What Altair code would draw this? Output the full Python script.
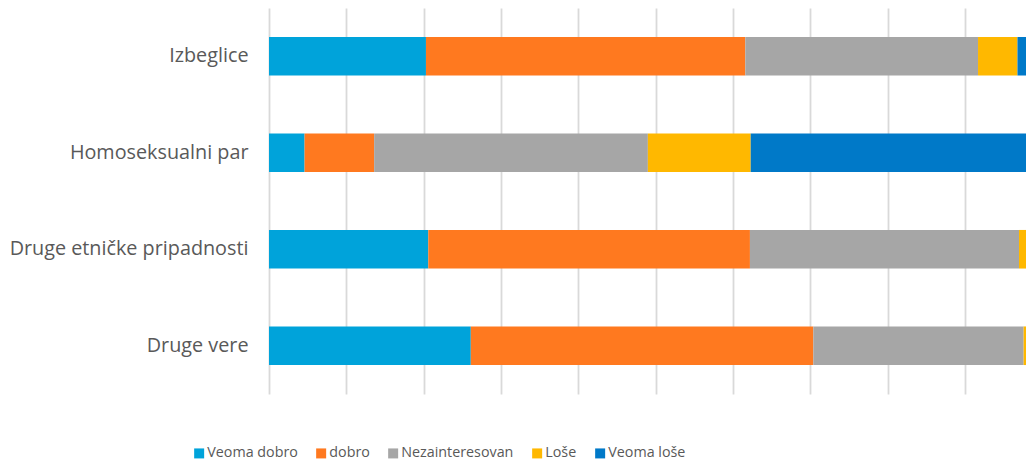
import altair as alt
import pandas as pd

groups = ["Izbeglice", "Homoseksualni par", "Druge etničke pripadnosti", "Druge vere"]
series = ["Veoma dobro", "dobro", "Nezainteresovan", "Loše", "Veoma loše"]
colors = ["#00A3DA", "#FF791F", "#A6A6A6", "#FFB800", "#0079C8"]

veoma_dobro = [20.3, 4.6, 20.6, 26.1]
dobro = [41.3, 9.0, 41.6, 44.3]
nezainteresovan = [30.1, 35.4, 34.8, 27.2]
lose = [5.1, 13.3, 1.4, 0.9]
veoma_lose = [3.2, 37.7, 1.6, 1.5]

grid_ticks = [0, 10, 20, 30, 40, 50, 60, 70, 80, 90, 100]

rows = []
for si, (name, vals) in enumerate(zip(series, [veoma_dobro, dobro, nezainteresovan, lose, veoma_lose])):
    for g, v in zip(groups, vals):
        rows.append({"group": g, "series": name, "value": v, "order": si})
df = pd.DataFrame(rows)

FONT = "Open Sans"
plot_w = 757
full_w = 773.2
x_max = 100 * plot_w / full_w

chart = alt.Chart(df).mark_bar(clip=True).encode(
    x=alt.X("value:Q", stack="zero",
            scale=alt.Scale(domain=[0, x_max], nice=False, zero=True),
            axis=alt.Axis(values=grid_ticks, labels=False, ticks=False, domain=False,
                          title=None, grid=True, gridColor="#D9D9D9", gridWidth=1.8)),
    y=alt.Y("group:N", sort=groups,
            scale=alt.Scale(paddingInner=0.6, paddingOuter=0.3),
            axis=alt.Axis(title=None, domain=False, ticks=False, labelFontSize=19.8,
                          labelColor="#595959", labelFont=FONT, labelPadding=21,
                          labelLimit=400)),
    color=alt.Color("series:N", sort=series,
                    scale=alt.Scale(domain=series, range=colors),
                    legend=alt.Legend(title=None, orient="none", direction="horizontal",
                                      legendX=-77, legendY=438,
                                      symbolType="square", symbolSize=100,
                                      symbolStrokeWidth=0,
                                      labelFont=FONT, labelFontSize=14.3,
                                      labelColor="#595959", labelOffset=1,
                                      columnPadding=16)),
    order=alt.Order("order:Q", sort="ascending"),
).properties(
    width=plot_w, height=386,
    autosize=alt.AutoSizeParams(type="none"),
    padding={"left": 261, "top": 0, "right": 0, "bottom": 68},
).configure_view(stroke=None)

chart.save("out.html", embed_options={"renderer": "svg", "actions": False})
